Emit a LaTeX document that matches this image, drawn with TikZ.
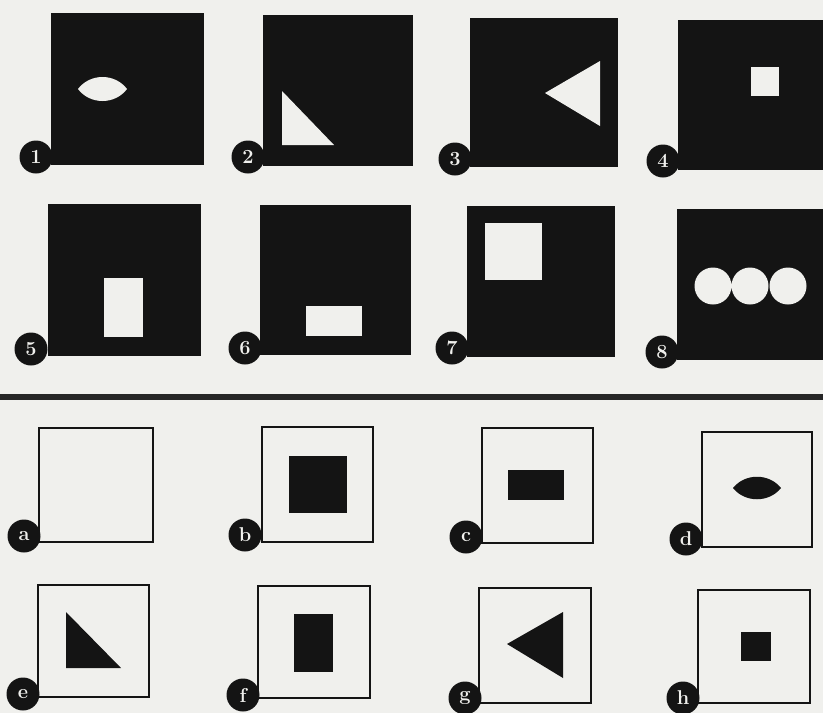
\documentclass[tikz,border=0pt]{standalone}
\definecolor{paper}{rgb}{0.94,0.94,0.93}
\tikzset{
  blackbox/.style={fill=black!92},
  whitebox/.style={draw=black!92,line width=2.4pt},
  hole/.style={fill=paper},
  solid shape/.style={fill=black!92},
  badge/.style={circle,fill=black!92,text=paper,minimum size=33pt,inner sep=0pt,
    font=\fontsize{20}{20}\selectfont\bfseries}
}
\begin{document}
\begin{tikzpicture}[x=1pt,y=-1pt]
\fill[paper] (0,0) rectangle (823,713);
\useasboundingbox (0,0) rectangle (823,713);
\clip (0,0) rectangle (823,713);

% top rows: black boxes with holes
\fill[blackbox] (51,13) rectangle (204,165);
\fill[hole] (78,89) .. controls (90,73) and (115,73) .. (127,89)
               .. controls (115,105) and (90,105) .. (78,89) -- cycle;
\node[badge] (n1) at (36,157) {1};

\fill[blackbox] (263,15) rectangle (413,166);
\fill[hole] (282,91) -- (282,145) -- (334,145) -- cycle;
\node[badge] (n2) at (248,157) {2};

\fill[blackbox] (470,18) rectangle (618,167);
\fill[hole] (545,93) -- (600,61) -- (600,126) -- cycle;
\node[badge] (n3) at (455,159) {3};

\fill[blackbox] (678,20) rectangle (830,170);
\fill[hole] (751,67) rectangle (779,96);
\node[badge] (n4) at (663,161) {4};

\fill[blackbox] (48,204) rectangle (201,356);
\fill[hole] (104,278) rectangle (143,337);
\node[badge] (n5) at (31,349) {5};

\fill[blackbox] (260,205) rectangle (411,355);
\fill[hole] (306,306) rectangle (362,336);
\node[badge] (n6) at (245,348) {6};

\fill[blackbox] (467,206) rectangle (615,357);
\fill[hole] (485,223) rectangle (542,280);
\node[badge] (n7) at (452,348) {7};

\fill[blackbox] (677,209) rectangle (830,360);
\fill[hole] (713,286) circle (18.5) (750,286) circle (18.5) (788,286) circle (18.5);
\node[badge] (n8) at (662,352) {8};

% divider
\draw[black!85,line width=6pt] (0,397) -- (823,397);

% bottom rows: outlined boxes with solid shapes
\draw[whitebox] (39,428) rectangle (153,542);
\node[badge] (la) at (24,536) {a};

\draw[whitebox] (262,427) rectangle (373,542);
\fill[solid shape] (289,456) rectangle (347,513);
\node[badge] (lb) at (245,535) {b};

\draw[whitebox] (482,428) rectangle (593,543);
\fill[solid shape] (508,470) rectangle (564,500);
\node[badge] (lc) at (466,537) {c};

\draw[whitebox] (702,432) rectangle (812,547);
\fill[solid shape] (733,488) .. controls (745,473) and (769,473) .. (781,488)
                    .. controls (769,503) and (745,503) .. (733,488) -- cycle;
\node[badge] (ld) at (686,539) {d};

\draw[whitebox] (38,585) rectangle (149,697);
\fill[solid shape] (66,612) -- (66,668) -- (121,668) -- cycle;
\node[badge] (le) at (23,694) {e};

\draw[whitebox] (258,586) rectangle (370,698);
\fill[solid shape] (294,614) rectangle (333,672);
\node[badge] (lf) at (243,695) {f};

\draw[whitebox] (479,588) rectangle (591,703);
\fill[solid shape] (507,644) -- (563,612) -- (563,678) -- cycle;
\node[badge] (lg) at (465,698) {g};

\draw[whitebox] (698,590) rectangle (810,703);
\fill[solid shape] (741,632) rectangle (771,661);
\node[badge] (lh) at (683,698) {h};
\end{tikzpicture}
\end{document}
